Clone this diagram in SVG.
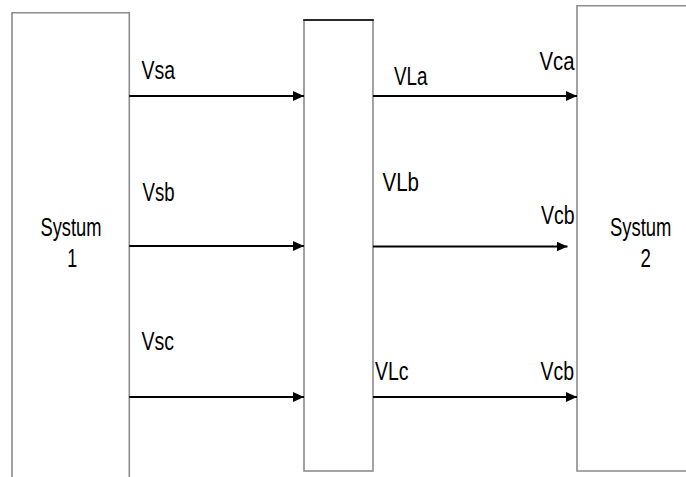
<svg xmlns="http://www.w3.org/2000/svg" width="686" height="477" viewBox="0 0 686 477">
  <style>
    .box { fill: none; stroke: #8c8c8c; stroke-width: 1.6; }
    .edge { fill: none; stroke: #000; stroke-width: 2; }
    .lbl { font-family: "Liberation Sans", Arial, sans-serif; font-size: 26px; fill: #000; }
  </style>
  <defs>
    <marker id="ah" viewBox="0 0 11 10" refX="11" refY="5" markerWidth="11" markerHeight="10" markerUnits="userSpaceOnUse" orient="auto">
      <path d="M0,0 L11,5 L0,10 z" fill="#000"/>
    </marker>
  </defs>
  <rect width="686" height="477" fill="#fff"/>

  <g id="system1">
    <path class="box" d="M12,477 V12.8 H129.3 V477"/>
    <text class="lbl" x="40.5" y="236" textLength="61" lengthAdjust="spacingAndGlyphs">Systum</text>
    <text class="lbl" x="72.3" y="267" text-anchor="middle" textLength="10" lengthAdjust="spacingAndGlyphs">1</text>
  </g>

  <g id="middle">
    <rect class="box" x="304" y="20" width="69" height="451"/>
    <line x1="303.2" y1="20" x2="373.8" y2="20" stroke="#000" stroke-width="1.6"/>
  </g>

  <g id="system2">
    <path class="box" d="M686,471 H577 V5.8 H686"/>
    <text class="lbl" transform="translate(610,236) scale(0.709,1)" x="0" y="0">Systum</text>
    <text class="lbl" transform="translate(645.7,267) scale(0.72,1)" x="0" y="0" text-anchor="middle">2</text>
  </g>

  <g id="connectors">
    <line class="edge" x1="129.3" y1="96" x2="304" y2="96" marker-end="url(#ah)"/>
    <line class="edge" x1="129.3" y1="246" x2="304" y2="246" marker-end="url(#ah)"/>
    <line class="edge" x1="129.3" y1="397" x2="304" y2="397" marker-end="url(#ah)"/>
    <line class="edge" x1="373" y1="96" x2="577" y2="96" marker-end="url(#ah)"/>
    <line class="edge" x1="373" y1="246.5" x2="567.5" y2="246.5" marker-end="url(#ah)"/>
    <line class="edge" x1="373" y1="397" x2="577" y2="397" marker-end="url(#ah)"/>
  </g>

  <g id="labels">
    <text class="lbl" x="141.5" y="79" textLength="33.5" lengthAdjust="spacingAndGlyphs">Vsa</text>
    <text class="lbl" x="142.5" y="201" textLength="32" lengthAdjust="spacingAndGlyphs">Vsb</text>
    <text class="lbl" x="141.5" y="350" textLength="32.5" lengthAdjust="spacingAndGlyphs">Vsc</text>
    <text class="lbl" x="394" y="85" textLength="33.5" lengthAdjust="spacingAndGlyphs">VLa</text>
    <text class="lbl" x="382.5" y="191" textLength="36.5" lengthAdjust="spacingAndGlyphs">VLb</text>
    <text class="lbl" x="375" y="379.5" textLength="33.5" lengthAdjust="spacingAndGlyphs">VLc</text>
    <text class="lbl" x="539.5" y="70" textLength="35" lengthAdjust="spacingAndGlyphs">Vca</text>
    <text class="lbl" x="541" y="223.5" textLength="33.5" lengthAdjust="spacingAndGlyphs">Vcb</text>
    <text class="lbl" x="540.5" y="379.5" textLength="33.5" lengthAdjust="spacingAndGlyphs">Vcb</text>
  </g>
</svg>
